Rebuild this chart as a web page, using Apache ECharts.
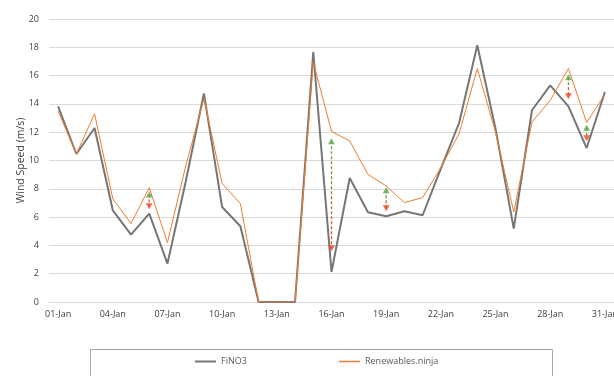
<!DOCTYPE html>
<html><head><meta charset="utf-8">
<script src="https://cdn.jsdelivr.net/npm/echarts@6/dist/echarts.min.js"></script>
<style>html,body{margin:0;padding:0;background:#fff}#c{width:614px;height:376px}</style>
</head><body><div id="c"></div>
<script>
const categories = ['01-Jan','02-Jan','03-Jan','04-Jan','05-Jan','06-Jan','07-Jan','08-Jan','09-Jan','10-Jan','11-Jan','12-Jan','13-Jan','14-Jan','15-Jan','16-Jan','17-Jan','18-Jan','19-Jan','20-Jan','21-Jan','22-Jan','23-Jan','24-Jan','25-Jan','26-Jan','27-Jan','28-Jan','29-Jan','30-Jan','31-Jan'];
const fino3 = [13.83,10.46,12.3,6.48,4.76,6.25,2.71,8.5,14.73,6.71,5.35,0,0,0,17.67,2.12,8.76,6.34,6.06,6.41,6.13,9.43,12.65,18.14,12.25,5.19,13.55,15.31,13.83,10.88,14.84];
const ninja = [13.5,10.46,13.3,7.3,5.54,8.08,4.2,9.6,14.37,8.37,6.95,0,0,0,16.96,12.06,11.38,9.02,8.2,7.02,7.38,9.5,11.9,16.5,12.0,6.36,12.72,14.25,16.5,12.68,14.68];
const arrowDays = ['06-Jan','16-Jan','19-Jan','29-Jan','30-Jan'];
const arrowUp = [7.6,11.36,7.9,15.88,12.31];
const arrowDown = [6.76,3.8,6.62,14.54,11.57];
const yTicks = {min:0, max:20, interval:2};

const font = 'Open Sans';
const series = [
  {name:'FiNO3', type:'line', data:fino3, symbol:'none', lineStyle:{color:'#767676', width:2}, itemStyle:{color:'#767676'}, z:3},
  {name:'Renewables.ninja', type:'line', data:ninja, symbol:'none', lineStyle:{color:'#ED7D31', width:1}, itemStyle:{color:'#ED7D31'}, z:4}
];
arrowDays.forEach((d,i)=>{
  series.push({type:'line', data:[[d,arrowUp[i]],[d,arrowDown[i]]], symbol:'none', silent:true, z:5,
    lineStyle:{width:1.3, type:[3,2], color:new echarts.graphic.LinearGradient(0,0,0,1,[{offset:0,color:'#5aac44'},{offset:1,color:'#f0442a'}])}});
});
series.push({type:'scatter', data:arrowDays.map((d,i)=>[d,arrowUp[i]]), symbol:'triangle', symbolSize:[7,6], itemStyle:{color:'#5fa84a'}, z:6, silent:true});
series.push({type:'scatter', data:arrowDays.map((d,i)=>[d,arrowDown[i]]), symbol:'triangle', symbolRotate:180, symbolSize:[7,6], itemStyle:{color:'#ee4a26'}, z:6, silent:true});

const chart = echarts.init(document.getElementById('c'), null, {renderer:'canvas'});
chart.setOption({
  animation:false,
  textStyle:{fontFamily:font},
  grid:{left:49, right:0, top:19, bottom:74, containLabel:false, outerBoundsMode:'none'},
  legend:[
    {data:['FiNO3'], left:195, top:357, padding:0, icon:'rect', itemWidth:21, itemHeight:2, itemGap:5, textStyle:{fontFamily:font, fontSize:9, color:'#595959'}},
    {data:['Renewables.ninja'], left:339, top:357, padding:0, icon:'rect', itemWidth:21, itemHeight:1.5, itemGap:5, textStyle:{fontFamily:font, fontSize:9, color:'#595959'}}
  ],
  graphic:[{type:'rect', shape:{x:90.5, y:349.5, width:462, height:40}, style:{fill:'none', stroke:'#a6a6a6', lineWidth:1}, silent:true}],
  xAxis:{type:'category', data:categories, boundaryGap:true,
    axisLine:{lineStyle:{color:'#d9d9d9'}}, axisTick:{show:false},
    axisLabel:{interval:2, color:'#404040', fontSize:9, fontFamily:font, margin:8}},
  yAxis:{type:'value', min:yTicks.min, max:yTicks.max, interval:yTicks.interval,
    name:'Wind Speed (m/s)', nameLocation:'middle', nameGap:22, nameMoveOverlap:false, nameTextStyle:{color:'#404040', fontSize:10.5, fontFamily:font},
    axisLine:{show:false}, axisTick:{show:false},
    axisLabel:{color:'#404040', fontSize:9, fontFamily:font, margin:10},
    splitLine:{lineStyle:{color:'#d9d9d9', width:1}}},
  series:series
});
</script></body></html>
